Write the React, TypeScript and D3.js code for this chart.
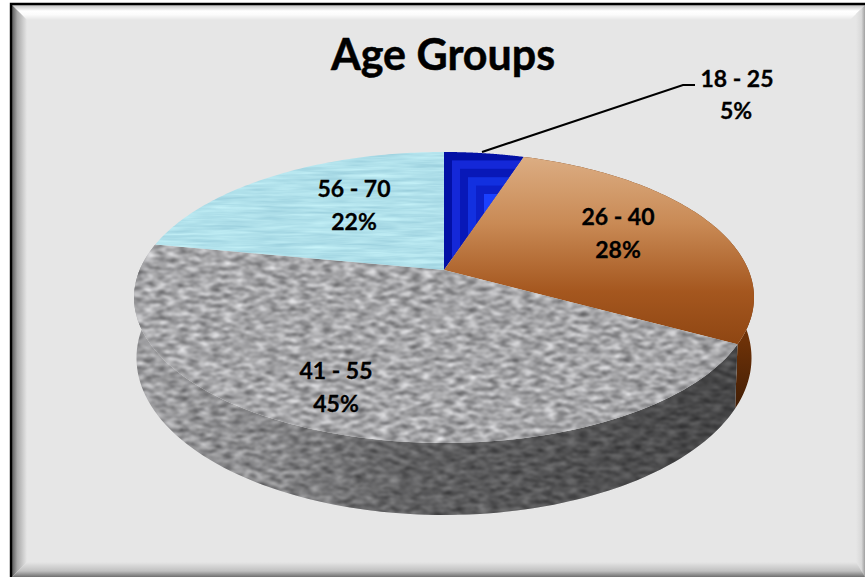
import React from "react";
import * as d3 from "d3";

const categories = ["18 - 25", "26 - 40", "41 - 55", "56 - 70"];
const shares = [5, 28, 45, 22];
const chartTitle = "Age Groups";

const WIDTH = 865;
const HEIGHT = 577;
const FONT = "Lato, Carlito, 'Open Sans', sans-serif";

// Projected disc: the hub sits above the middle of the ellipse because of the tilt.
const HUB = { x: 444, y: 270 };
const SPREAD_X = 304.4;
const SPREAD_Y = 140.3;
const TILT = 0.189;
const BASE_SCALE_X = 0.992;
const BASE_SCALE_Y = 1.079;
const BASE_DROP = 58.3;

const project = (a: number, sx = 1, sy = 1, drop = 0): [number, number] => {
  const u = Math.sin(a);
  const v = -Math.cos(a);
  const w = 1 - TILT * v;
  return [HUB.x + (sx * SPREAD_X * u) / w, HUB.y + drop + (sy * SPREAD_Y * v) / w];
};
const projectBase = (a: number) => project(a, BASE_SCALE_X, BASE_SCALE_Y, BASE_DROP);

const arcAngles = (a0: number, a1: number) => d3.range(0, 97).map((i) => a0 + ((a1 - a0) * i) / 96);
const toPath = d3.line<[number, number]>().x((d) => d[0]).y((d) => d[1]);

const slices = d3.pie<number>().sort(null).value((d) => d)(shares);

const faces = slices.map((s) => {
  const rim = arcAngles(s.startAngle, s.endAngle).map((a) => project(a));
  return `${toPath([[HUB.x, HUB.y], ...rim])}Z`;
});

// Each wall is the sweep of small quads between the top rim and the base rim,
// so the outline stays closed where the rim turns away from the viewer.
const walls = slices.map((s) => {
  const angles = arcAngles(s.startAngle, s.endAngle);
  return d3
    .pairs(angles)
    .map(([a, b]) => `${toPath([project(a), project(b), projectBase(b), projectBase(a)])}Z`)
    .join("");
});

// Stepped tile fill of the smallest slice, nested around a point inside it.
const tileBands = ["#0210a5", "#1428d8", "#0818b8", "#1230e0", "#0c20c8", "#1a40ff"];
const tileBox = { x0: 444, x1: 540, y0: 152, y1: 290 };
const bandScale = d3.scaleLinear().domain([0, tileBands.length]).range([0, 48]);

const labelSpots = [
  { x: 737, y: 87, x2: 736, y2: 119 },
  { x: 618, y: 225, x2: 618, y2: 258 },
  { x: 336, y: 379, x2: 336, y2: 412 },
  { x: 354, y: 197, x2: 354, y2: 230 },
];

export default function App() {
  return (
    <svg
      width={WIDTH}
      height={HEIGHT}
      viewBox={`0 0 ${WIDTH} ${HEIGHT}`}
      style={{ position: "absolute", left: 0, top: 0, background: "#fff" }}
    >
      <defs>
        <linearGradient id="bevelTop" x1="0" y1="0" x2="0" y2="1">
          <stop offset="0" stopColor="#c4c4c4" />
          <stop offset="0.4" stopColor="#ffffff" />
          <stop offset="0.65" stopColor="#fbfbfb" />
          <stop offset="1" stopColor="#e6e6e6" />
        </linearGradient>
        <linearGradient id="bevelLeft" x1="0" y1="0" x2="1" y2="0">
          <stop offset="0" stopColor="#5a5a5a" />
          <stop offset="0.35" stopColor="#a8a8a8" />
          <stop offset="1" stopColor="#e6e6e6" />
        </linearGradient>
        <linearGradient id="bevelRight" x1="0" y1="0" x2="1" y2="0">
          <stop offset="0" stopColor="#e6e6e6" />
          <stop offset="0.6" stopColor="#d8d8d8" />
          <stop offset="1" stopColor="#a0a0a0" />
        </linearGradient>
        <linearGradient id="bevelBottom" x1="0" y1="0" x2="0" y2="1">
          <stop offset="0" stopColor="#e6e6e6" />
          <stop offset="0.6" stopColor="#c0c0c0" />
          <stop offset="1" stopColor="#707070" />
        </linearGradient>

        <linearGradient id="copper" gradientUnits="userSpaceOnUse" x1="0" y1="155" x2="0" y2="350">
          <stop offset="0" stopColor="#dcae84" />
          <stop offset="0.35" stopColor="#c98a55" />
          <stop offset="0.7" stopColor="#a5571f" />
          <stop offset="1" stopColor="#8c4411" />
        </linearGradient>
        <linearGradient id="copperWall" gradientUnits="userSpaceOnUse" x1="0" y1="340" x2="0" y2="420">
          <stop offset="0" stopColor="#6e3208" />
          <stop offset="1" stopColor="#3a1a04" />
        </linearGradient>
        <linearGradient id="wallShade" gradientUnits="userSpaceOnUse" x1="140" y1="0" x2="735" y2="0">
          <stop offset="0" stopColor="#000" stopOpacity="0.05" />
          <stop offset="0.2" stopColor="#000" stopOpacity="0.16" />
          <stop offset="0.45" stopColor="#000" stopOpacity="0.42" />
          <stop offset="1" stopColor="#000" stopOpacity="0.58" />
        </linearGradient>

        <filter id="granite" x="0" y="0" width="100%" height="100%" colorInterpolationFilters="sRGB">
          <feTurbulence type="fractalNoise" baseFrequency="0.09 0.24" numOctaves="3" seed="7" />
          <feColorMatrix
            values="0.8 0 0 0 0.25  0.8 0 0 0 0.25  0.8 0 0 0 0.26  0 0 0 0 1"
          />
          <feGaussianBlur stdDeviation="0.8" />
        </filter>
        <filter id="water" x="0" y="0" width="100%" height="100%" colorInterpolationFilters="sRGB">
          <feTurbulence type="fractalNoise" baseFrequency="0.02 0.28" numOctaves="3" seed="3" />
          <feColorMatrix
            values="0.22 0 0 0 0.58  0.18 0 0 0 0.79  0.14 0 0 0 0.85  0 0 0 0 1"
          />
          <feGaussianBlur stdDeviation="0.6" />
        </filter>

        {slices.map((_, i) => (
          <clipPath id={`face-${i}`} key={`f${i}`}>
            <path d={faces[i]} />
          </clipPath>
        ))}
        <clipPath id="wall-grey">
          <path d={walls[2]} />
        </clipPath>
      </defs>

      {/* Chart area with its bevelled edge */}
      <rect x={11} y={4} width={WIDTH - 11} height={HEIGHT - 4} fill="#e6e6e6" />
      <polygon points="12,5 865,5 850,20 27,20" fill="url(#bevelTop)" />
      <polygon points="12,5 27,20 27,562 12,577" fill="url(#bevelLeft)" />
      <polygon points="865,5 865,577 856,568 856,14" fill="url(#bevelRight)" />
      <polygon points="12,577 27,562 856,562 865,577" fill="url(#bevelBottom)" />
      <path d={`M11 577V4H${WIDTH}`} fill="none" stroke="#000" strokeWidth={2.4} />

      {/* Side walls, drawn before the faces that overlap them */}
      <path d={walls[1]} fill="url(#copperWall)" />
      <g clipPath="url(#wall-grey)">
        <rect x={120} y={240} width={640} height={290} filter="url(#granite)" />
        <rect x={120} y={240} width={640} height={290} fill="url(#wallShade)" />
      </g>

      {/* Top faces */}
      <g clipPath="url(#face-0)">
        {tileBands.map((color, i) => {
          const inset = bandScale(i);
          return (
            <rect
              key={color}
              x={tileBox.x0 + inset}
              y={tileBox.y0 + inset * 1.05}
              width={Math.max(0, tileBox.x1 - tileBox.x0 - 2 * inset)}
              height={Math.max(0, tileBox.y1 - tileBox.y0 - 2.1 * inset)}
              fill={color}
            />
          );
        })}
      </g>
      <path d={faces[1]} fill="url(#copper)" />
      <g clipPath="url(#face-2)">
        <rect x={125} y={235} width={625} height={215} filter="url(#granite)" />
      </g>
      <g clipPath="url(#face-3)">
        <rect x={150} y={148} width={300} height={130} filter="url(#water)" />
      </g>

      {/* Leader for the smallest slice */}
      <polyline points="482,152 683,85 695,85" fill="none" stroke="#000" strokeWidth={2} />

      <text
        x={443}
        y={70}
        textAnchor="middle"
        fontFamily={FONT}
        fontWeight={700}
        fontSize={43}
        fill="#000"
        stroke="#000"
        strokeWidth={0.5}
      >
        {chartTitle}
      </text>

      {categories.map((name, i) => (
        <g
          key={name}
          fontFamily={FONT}
          fontWeight={700}
          fontSize={23}
          fill="#000"
          stroke="#000"
          strokeWidth={0.3}
          textAnchor="middle"
        >
          <text x={labelSpots[i].x} y={labelSpots[i].y}>{name}</text>
          <text x={labelSpots[i].x2} y={labelSpots[i].y2}>{`${shares[i]}%`}</text>
        </g>
      ))}
    </svg>
  );
}
